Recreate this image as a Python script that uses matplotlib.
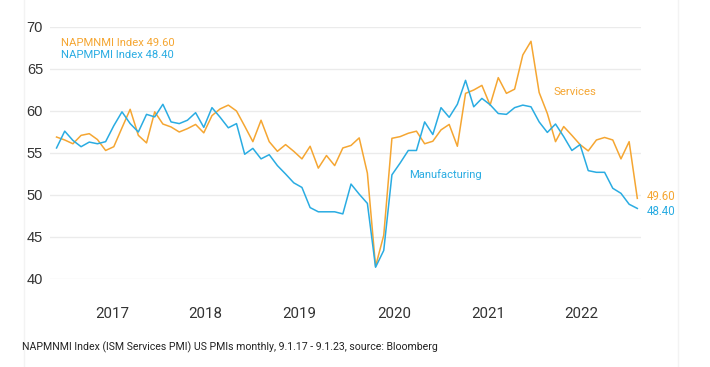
import matplotlib
matplotlib.use("Agg")
import matplotlib.pyplot as plt
from matplotlib.lines import Line2D

# monthly readings, Jan 2017 .. Dec 2022
services = [56.9, 56.55, 56.1, 57.1, 57.3, 56.6, 55.3, 55.75, 58.0, 60.2, 57.1, 56.2,
            59.9, 58.45, 58.1, 57.5, 57.9, 58.4, 57.4, 59.45, 60.25, 60.7, 60.0, 58.2,
            56.35, 58.9, 56.35, 55.2, 56.0, 55.2, 54.3, 55.8, 53.2, 54.7, 53.5, 55.6,
            55.9, 56.8, 52.6, 41.5, 45.2, 56.75, 56.95, 57.35, 57.6, 56.1, 56.4, 57.75,
            58.4, 55.8, 62.1, 62.5, 63.05, 60.7, 63.97, 62.1, 62.6, 66.67, 68.3, 62.2,
            59.7, 56.35, 58.15, 57.1, 56.0, 55.25, 56.55, 56.85, 56.55, 54.3, 56.35, 49.6]
manufacturing = [55.6, 57.6, 56.5, 55.75, 56.3, 56.1, 56.35, 58.25, 59.9, 58.5, 57.5, 59.6,
                 59.3, 60.8, 58.7, 58.5, 58.9, 59.8, 58.05, 60.4, 59.25, 58.0, 58.5, 54.85,
                 55.55, 54.3, 54.8, 53.5, 52.5, 51.45, 50.9, 48.5, 48.0, 48.0, 48.0, 47.75,
                 51.3, 50.1, 49.0, 41.4, 43.4, 52.4, 53.8, 55.3, 55.3, 58.7, 57.2, 60.4,
                 59.25, 60.8, 63.65, 60.5, 61.5, 60.75, 59.7, 59.6, 60.4, 60.7, 60.5, 58.7,
                 57.45, 58.45, 56.95, 55.3, 56.0, 52.9, 52.7, 52.7, 50.8, 50.2, 48.9, 48.4]
year_labels = ["2017", "2018", "2019", "2020", "2021", "2022"]
year_ticks = [6.8, 18.2, 29.7, 41.3, 52.8, 64.2]
y_ticks = [40, 45, 50, 55, 60, 65, 70]

orange = "#F5A632"
blue = "#2AACE2"
narrow = ["Roboto", "DejaVu Sans"]

fig = plt.figure(figsize=(7.1, 3.67), dpi=100)
ax = fig.add_axes([50 / 710, 1 - 279 / 367, 591 / 710, 252 / 367])

x = list(range(len(services)))
ax.plot(x, services, color=orange, lw=1.1, clip_on=False, zorder=3)
ax.plot(x, manufacturing, color=blue, lw=1.1, clip_on=False, zorder=3)

ax.set_xlim(-0.8, 71.45)
ax.set_ylim(40, 70)
ax.set_yticks(y_ticks)
ax.set_xticks(year_ticks)
ax.set_xticklabels(year_labels, family=narrow, fontsize=10.8, color="#333333")
ax.set_yticklabels([str(v) for v in y_ticks], family=["Liberation Sans"], fontsize=10.5,
                   color="#333333")
ax.tick_params(axis="x", length=0, pad=20)
ax.tick_params(axis="y", length=0, pad=5)
ax.grid(axis="y", color="#ebebeb", lw=1)
ax.set_axisbelow(True)
for s in ax.spines.values():
    s.set_visible(False)

# labels
ax.text(0.5, 68.15, "NAPMNMI Index 49.60", color=orange, family=narrow, fontsize=8.1, va="center")
ax.text(0.5, 66.7, "NAPMPMI Index 48.40", color=blue, family=narrow, fontsize=8.1, va="center")
ax.text(60.8, 62.26, "Services", color=orange, family=narrow, fontsize=8.2, va="center")
ax.text(43.1, 52.46, "Manufacturing", color=blue, family=narrow, fontsize=8.1, va="center")
ax.text(72.15, 49.88, "%.2f" % services[-1], color=orange, family=narrow, fontsize=8.3,
        va="center", clip_on=False)
ax.text(72.15, 48.0, "%.2f" % manufacturing[-1], color=blue, family=narrow, fontsize=8.3,
        va="center", clip_on=False)

fig.text(22 / 710, 1 - 347 / 367,
         "NAPMNMI Index (ISM Services PMI) US PMIs monthly, 9.1.17 - 9.1.23, source: Bloomberg",
         family=narrow, fontsize=7.6, color="#222222", va="center")

# faint panel borders
fig.add_artist(Line2D([24 / 710, 24 / 710], [0, 1], color="#f3f3f3", lw=1))
fig.add_artist(Line2D([678 / 710, 678 / 710], [0, 1], color="#f3f3f3", lw=1))

fig.savefig("out.png", dpi=100)
